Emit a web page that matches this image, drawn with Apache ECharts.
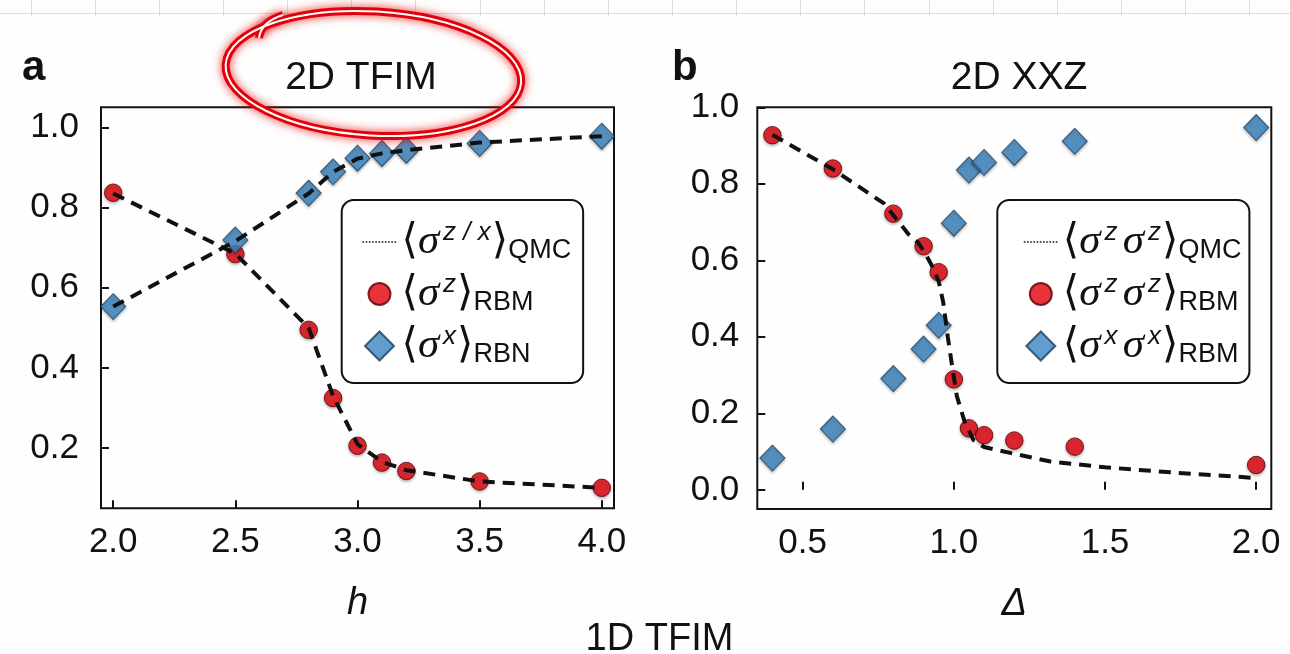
<!DOCTYPE html>
<html>
<head>
<meta charset="utf-8">
<title>2D TFIM / 2D XXZ</title>
<script src="https://cdn.jsdelivr.net/npm/echarts@6.0.0/dist/echarts.min.js"></script>
<style>
  html, body { margin: 0; padding: 0; background: #fdfefd; }
  #main { width: 1290px; height: 654px; }
</style>
</head>
<body>
<div id="main"></div>
<script>
// panel a : 2D TFIM
var hRbm = [2.0, 2.5, 2.8, 2.9, 3.0, 3.1, 3.2, 3.5, 4.0];
var szRbm = [0.837, 0.684, 0.495, 0.325, 0.206, 0.164, 0.143, 0.117, 0.101];
var sxRbn = [0.553, 0.719, 0.836, 0.889, 0.923, 0.935, 0.943, 0.960, 0.978];
var hQmc = [2.0, 2.5, 2.8, 2.9, 3.0, 3.1, 3.2, 3.5, 4.0];
var szQmc = [0.835, 0.685, 0.500, 0.330, 0.210, 0.166, 0.145, 0.117, 0.101];
var sxQmc = [0.553, 0.716, 0.835, 0.889, 0.922, 0.935, 0.943, 0.962, 0.978];
var xTicksA = [2.0, 2.5, 3.0, 3.5, 4.0];
var yTicksA = [0.2, 0.4, 0.6, 0.8, 1.0];

// panel b : 2D XXZ
var dRbm = [0.4, 0.6, 0.8, 0.9, 0.95, 1.0, 1.05, 1.1, 1.2, 1.4, 2.0];
var zzRbm = [0.927, 0.840, 0.722, 0.637, 0.569, 0.289, 0.161, 0.143, 0.129, 0.113, 0.065];
var xxRbm = [0.083, 0.159, 0.291, 0.368, 0.430, 0.697, 0.836, 0.856, 0.882, 0.911, 0.947];
var dQmc = [0.4, 0.6, 0.77, 0.85, 0.88, 0.9, 0.925, 0.95, 0.965, 0.98, 0.995, 1.01, 1.035, 1.065, 1.1, 1.19, 1.32, 1.5, 1.73, 2.0];
var zzQmc = [0.928, 0.838, 0.748, 0.668, 0.648, 0.625, 0.590, 0.545, 0.490, 0.400, 0.320, 0.245, 0.180, 0.130, 0.112, 0.096, 0.074, 0.059, 0.045, 0.031];
var xTicksB = [0.5, 1.0, 1.5, 2.0];
var yTicksB = [0.0, 0.2, 0.4, 0.6, 0.8, 1.0];

function pairs(xs, ys) {
    return xs.map(function (x, i) { return [x, ys[i]]; });
}

var ink = '#111';
var dash = { color: ink, width: 4, type: [12, 8] };
var redDot = {
    color: '#e2000b', borderColor: '#5c0000', borderWidth: 1,
    shadowBlur: 3, shadowOffsetY: 1.5, shadowColor: 'rgba(0,0,0,0.35)'
};
var blueDia = {
    color: '#3b84c1', borderColor: '#1d3f5f', borderWidth: 1,
    shadowBlur: 3, shadowOffsetY: 1.5, shadowColor: 'rgba(0,0,0,0.35)'
};

// legend icons (path bbox padded so circle stays smaller than diamond)
var circleIcon = 'path://M0,0M29,29M25.5,14.5A11,11,0,1,1,3.5,14.5A11,11,0,1,1,25.5,14.5Z';
var diamondIcon = 'path://M14.5,0L29,14.5L14.5,29L0,14.5Z';

var legendText = {
    qmcA: '{br|⟨}{sg|σ}{sup|z / x}{br|⟩}{sub|QMC}',
    rbmZ: '{br|⟨}{sg|σ}{sup|z}{br|⟩}{sub|RBM}',
    rbnX: '{br|⟨}{sg|σ}{sup|x}{br|⟩}{sub|RBN}',
    qmcB: '{br|⟨}{sg|σ}{sup|z}{gap| }{sg|σ}{sup|z}{br|⟩}{sub|QMC}',
    rbmZZ: '{br|⟨}{sg|σ}{sup|z}{gap| }{sg|σ}{sup|z}{br|⟩}{sub|RBM}',
    rbmXX: '{br|⟨}{sg|σ}{sup|x}{gap| }{sg|σ}{sup|x}{br|⟩}{sub|RBM}'
};
var richLegend = {
    br: { fontFamily: 'DejaVu Sans', fontSize: 42, lineHeight: 44, color: ink },
    sg: { fontFamily: 'Liberation Serif', fontStyle: 'italic', fontSize: 43, lineHeight: 44, color: ink },
    sup: { fontFamily: 'Liberation Sans', fontStyle: 'italic', fontSize: 26, lineHeight: 16, verticalAlign: 'top', padding: [0, 1, 0, 4], color: ink },
    sub: { fontFamily: 'Liberation Sans', fontSize: 27, lineHeight: 22, verticalAlign: 'bottom', color: ink },
    gap: { fontSize: 16, lineHeight: 44 }
};

function makeLegend(left, pad, names) {
    return {
        orient: 'vertical',
        left: left, top: 200,
        itemWidth: 34, itemHeight: 29, itemGap: 8,
        padding: pad,
        backgroundColor: '#fff',
        borderColor: ink, borderWidth: 2, borderRadius: 12,
        selectedMode: false,
        data: [
            { name: names[0], itemStyle: { opacity: 0 }, lineStyle: { type: 'dotted', width: 1.6, color: ink } },
            { name: names[1], icon: circleIcon },
            { name: names[2], icon: diamondIcon }
        ],
        formatter: function (name) { return legendText[name]; },
        textStyle: { width: 190, rich: richLegend }
    };
}

function valueAxis(idx, min, max, ticks, margin, name) {
    var ax = {
        type: 'value', gridIndex: idx, min: min, max: max,
        axisLine: { show: false },
        splitLine: { show: false },
        axisTick: { show: true, inside: true, length: 8, customValues: ticks, lineStyle: { color: ink, width: 2 } },
        axisLabel: {
            customValues: ticks, margin: margin,
            fontFamily: 'Liberation Sans', fontSize: 35, color: ink,
            formatter: function (v) { return v.toFixed(1); }
        }
    };
    if (name) {
        ax.name = name;
        ax.nameLocation = 'middle';
        ax.nameGap = 76;
        ax.nameTextStyle = { fontFamily: 'Liberation Sans', fontStyle: 'italic', fontSize: 38, color: ink };
    }
    return ax;
}

// faint spreadsheet lines across the very top
var sheetLines = [{ type: 'line', shape: { x1: 0, y1: 13.5, x2: 1290, y2: 13.5 }, style: { stroke: '#dcdcdc', lineWidth: 1 }, z: 0 }];
for (var k = 0; k < 20; k++) {
    var gx = Math.round(30.5 + 64.15 * k) + 0.5;
    sheetLines.push({ type: 'line', shape: { x1: gx, y1: 0, x2: gx, y2: 16 }, style: { stroke: '#dcdcdc', lineWidth: 1 }, z: 0 });
}

var penOuter = { fill: 'none', stroke: '#e3000b', lineWidth: 8, shadowBlur: 10, shadowColor: 'rgba(235,0,0,0.8)' };
var penInner = { fill: 'none', stroke: '#ffffff', lineWidth: 2 };
var circled = [
    { type: 'ellipse', x: 373.4, y: 73.5, rotation: -0.06, shape: { cx: 0, cy: 0, rx: 148, ry: 62 }, style: penOuter, z: 100 },
    { type: 'bezierCurve', shape: { x1: 259, y1: 38, cpx1: 261, cpy1: 22, x2: 283, y2: 15 }, style: penOuter, z: 100 },
    { type: 'ellipse', x: 373.4, y: 73.5, rotation: -0.06, shape: { cx: 0, cy: 0, rx: 148, ry: 62 }, style: penInner, z: 101 },
    { type: 'bezierCurve', shape: { x1: 259, y1: 38, cpx1: 261, cpy1: 22, x2: 283, y2: 15 }, style: penInner, z: 101 }
];

var myChart = echarts.init(document.getElementById('main'), null, { renderer: 'canvas' });
var option = {
    backgroundColor: '#fdfefd',
    animation: false,
    title: [
        { text: 'a', left: 17, top: 42, textStyle: { fontFamily: 'Liberation Sans', fontWeight: 900, fontSize: 42, color: ink } },
        { text: 'b', left: 667, top: 42, textStyle: { fontFamily: 'Liberation Sans', fontWeight: 900, fontSize: 42, color: ink } },
        { text: '2D TFIM', left: 356, textAlign: 'center', top: 54, textStyle: { fontFamily: 'Liberation Sans', fontWeight: 'normal', fontSize: 39, color: ink } },
        { text: '2D XXZ', left: 1014, textAlign: 'center', top: 54, textStyle: { fontFamily: 'Liberation Sans', fontWeight: 'normal', fontSize: 39, color: ink } },
        { text: '1D TFIM', left: 654.5, textAlign: 'center', top: 616, textStyle: { fontFamily: 'Liberation Sans', fontWeight: 'normal', fontSize: 38, color: ink } }
    ],
    grid: [
        { left: 101, top: 107.3, width: 513, height: 401, show: true, borderColor: ink, borderWidth: 2, backgroundColor: 'transparent' },
        { left: 757.3, top: 107.3, width: 514, height: 401.7, show: true, borderColor: ink, borderWidth: 2, backgroundColor: 'transparent' }
    ],
    xAxis: [
        valueAxis(0, 1.95, 4.05, xTicksA, 17, 'h'),
        valueAxis(1, 0.35, 2.05, xTicksB, 17, 'Δ')
    ],
    yAxis: [
        valueAxis(0, 0.05, 1.05, yTicksA, 22),
        valueAxis(1, -0.05, 1.0, yTicksB, 18)
    ],
    legend: [
        makeLegend(341.7, [20, 12, 15, 20], ['qmcA', 'rbmZ', 'rbnX']),
        makeLegend(997.3, [20, 8, 15, 25.7], ['qmcB', 'rbmZZ', 'rbmXX'])
    ],
    graphic: sheetLines.concat(circled),
    series: [
        { name: 'rbmZ', type: 'scatter', xAxisIndex: 0, yAxisIndex: 0, symbol: 'circle', symbolSize: 17.5, itemStyle: redDot, data: pairs(hRbm, szRbm), z: 3 },
        { name: 'rbnX', type: 'scatter', xAxisIndex: 0, yAxisIndex: 0, symbol: 'diamond', symbolSize: [25, 26], itemStyle: blueDia, data: pairs(hRbm, sxRbn), z: 4 },
        { name: 'qmcA', type: 'line', xAxisIndex: 0, yAxisIndex: 0, symbol: 'none', lineStyle: dash, itemStyle: { color: ink }, data: pairs(hQmc, szQmc), z: 5 },
        { name: 'qmcA', type: 'line', xAxisIndex: 0, yAxisIndex: 0, symbol: 'none', lineStyle: dash, itemStyle: { color: ink }, data: pairs(hQmc, sxQmc), z: 5 },
        { name: 'rbmZZ', type: 'scatter', xAxisIndex: 1, yAxisIndex: 1, symbol: 'circle', symbolSize: 17.5, itemStyle: redDot, data: pairs(dRbm, zzRbm), z: 3 },
        { name: 'rbmXX', type: 'scatter', xAxisIndex: 1, yAxisIndex: 1, symbol: 'diamond', symbolSize: [25, 26], itemStyle: blueDia, data: pairs(dRbm, xxRbm), z: 4 },
        { name: 'qmcB', type: 'line', xAxisIndex: 1, yAxisIndex: 1, symbol: 'none', lineStyle: dash, itemStyle: { color: ink }, data: pairs(dQmc, zzQmc), z: 5 }
    ]
};
myChart.setOption(option);
</script>
</body>
</html>
